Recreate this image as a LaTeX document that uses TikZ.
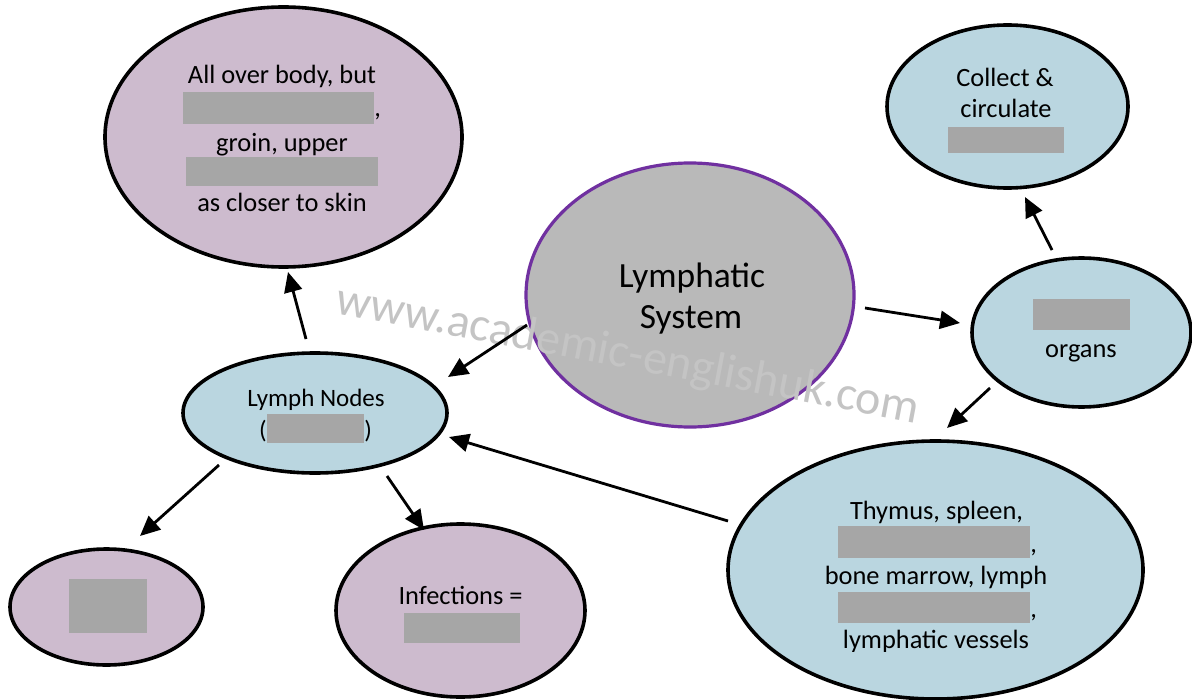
\documentclass[tikz,border=0pt]{standalone}
\usepackage{fontspec}
\setmainfont{Carlito}
\usetikzlibrary{shapes.geometric,arrows.meta}
\definecolor{lilac}{HTML}{CDBBCE}
\definecolor{paleblue}{HTML}{BAD6E0}
\definecolor{coregray}{HTML}{B9B9B9}
\definecolor{corepurple}{HTML}{7030A0}
\definecolor{redactgray}{HTML}{A6A6A6}
\definecolor{markgray}{HTML}{C4C4C4}
\tikzset{
  bub/.style={ellipse, draw=black, line width=1.8pt, inner sep=0pt},
  pinkbub/.style={bub, fill=lilac},
  bluebub/.style={bub, fill=paleblue},
  txt/.style={anchor=base, inner sep=0pt, font=\fontsize{13.2}{16}\selectfont},
  lntxt/.style={txt, font=\fontsize{12.5}{15}\selectfont},
  coretxt/.style={anchor=base, inner sep=0pt, font=\fontsize{17.7}{21}\selectfont},
  redact/.style={fill=redactgray, draw=none, inner sep=0pt},
  arr/.style={-{Triangle[length=10pt,width=9pt]}, line width=1.4pt},
}
\begin{document}
\begin{tikzpicture}[x=0.5pt,y=-0.5pt]
\useasboundingbox (0,0) rectangle (1192,700);
\fill[white] (0,0) rectangle (1192,700);

% ellipses
\node[pinkbub, minimum width=178.5pt, minimum height=130pt] (tl) at (283.5,137) {};
\node[ellipse, fill=coregray, draw=corepurple, line width=1.6pt, inner sep=0pt,
      minimum width=164pt, minimum height=132pt] (core) at (690,295) {};
\node[bluebub, minimum width=120.5pt, minimum height=81.5pt] (col) at (1007.5,106.5) {};
\node[bluebub, minimum width=109.5pt, minimum height=74.5pt] (org) at (1081.5,332.5) {};
\node[bluebub, minimum width=207.5pt, minimum height=129pt] (big) at (935.5,570) {};
\node[bluebub, minimum width=132pt, minimum height=60pt] (ln) at (315,413) {};
\node[pinkbub, minimum width=96.5pt, minimum height=58pt] (sm) at (106.5,607) {};
\node[pinkbub, minimum width=124.5pt, minimum height=86.5pt] (inf) at (460.5,610.5) {};

% redaction boxes
\node[redact, minimum width=95.5pt, minimum height=16pt] (r1) at (278.5,108) {};
\node[redact, minimum width=96pt, minimum height=14.5pt] (r2) at (282,171.5) {};
\node[redact, minimum width=58pt, minimum height=13pt] (r3) at (1006,140) {};
\node[redact, minimum width=48.5pt, minimum height=15.5pt] (r4) at (1081.5,314.5) {};
\node[redact, minimum width=48.5pt, minimum height=14.5pt] (r5) at (315.5,428.5) {};
\node[redact, minimum width=39pt, minimum height=27pt] (r6) at (108,606) {};
\node[redact, minimum width=58pt, minimum height=15pt] (r7) at (462,628) {};
\node[redact, minimum width=96pt, minimum height=16pt] (r8) at (934,542) {};
\node[redact, minimum width=96pt, minimum height=15.5pt] (r9) at (934,607.5) {};

% texts: top-left
\node[txt] (t1) at (282,84) {All over body, but};
\node[txt, anchor=base west] (c1) at (374,117) {,};
\node[txt] (t2) at (282,152) {groin, upper};
\node[txt] (t3) at (282,212) {as closer to skin};
% collect
\node[txt] (t4) at (1005,87) {Collect \&};
\node[txt] (t5) at (1006,118) {circulate};
% organs
\node[txt] (t6) at (1081,357) {organs};
% lymph nodes
\node[lntxt] (t7) at (316,406) {Lymph Nodes};
\node[lntxt, anchor=base east] (p1) at (267,438) {(};
\node[lntxt, anchor=base west] (p2) at (364,438) {)};
% infections
\node[txt] (t8) at (460.5,604) {Infections =};
% big
\node[txt] (t9) at (936.5,519) {Thymus, spleen,};
\node[txt, anchor=base west] (c2) at (1030,552) {,};
\node[txt] (t10) at (936,584) {bone marrow, lymph};
\node[txt, anchor=base west] (c3) at (1030,617) {,};
\begin{scope}
  \clip (820,600) rectangle (1060,651);
  \node[txt] (t11) at (936,648) {lymphatic vessels};
\end{scope}
% core
\node[coretxt] (k1) at (692,287) {Lymphatic};
\node[coretxt] (k2) at (691,328) {System};

% watermark
\node[inner sep=0pt, text=markgray, rotate=-10.7, font=\fontsize{24}{28}\selectfont] (wm) at (628,356) {www.academic-englishuk.com};

% arrow end points
\coordinate (a1s) at (306,339); \coordinate (a1e) at (288,272);
\coordinate (a2s) at (527,325); \coordinate (a2e) at (448,377);
\coordinate (a3s) at (865,308); \coordinate (a3e) at (960,323);
\coordinate (a4s) at (1052,250); \coordinate (a4e) at (1025,197);
\coordinate (a5s) at (990,388); \coordinate (a5e) at (947,428);
\coordinate (a6s) at (728,521); \coordinate (a6e) at (449,437);
\coordinate (a7s) at (219,465); \coordinate (a7e) at (140,536);
\coordinate (a8s) at (387,476); \coordinate (a8e) at (424,530);

\draw[arr] (a1s) -- (a1e);
\draw[arr] (a2s) -- (a2e);
\draw[arr] (a3s) -- (a3e);
\draw[arr] (a4s) -- (a4e);
\draw[arr] (a5s) -- (a5e);
\draw[arr] (a6s) -- (a6e);
\draw[arr] (a7s) -- (a7e);
\draw[arr] (a8s) -- (a8e);
\end{tikzpicture}
\end{document}
